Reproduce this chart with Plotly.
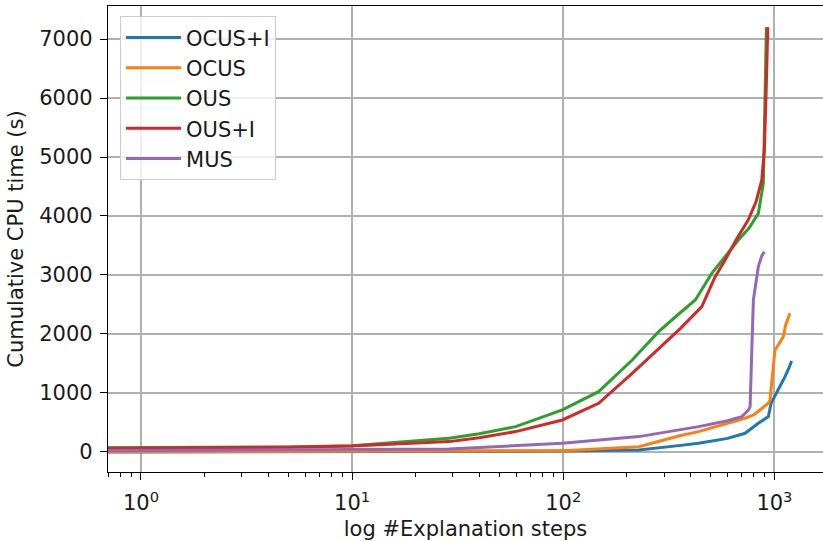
import plotly.graph_objects as go

# ---- data ----
ocus_i_steps = [0.6, 1, 10, 50, 100, 228, 352, 437, 600, 726, 839, 900, 936, 964, 1000, 1042, 1122, 1170, 1206]
ocus_i_time = [0, 0, 3, 10, 18, 34, 107, 147, 230, 316, 486, 560, 599, 825, 930, 1050, 1277, 1420, 1542]

ocus_steps = [0.6, 1, 5, 10, 30, 50, 100, 228, 352, 437, 600, 726, 800, 936, 953, 980, 1006, 1042, 1102, 1130, 1184]
ocus_time = [3, 4, 6, 8, 12, 15, 22, 90, 271, 345, 480, 571, 630, 825, 881, 1300, 1729, 1813, 1954, 2152, 2350]

ous_steps = [0.6, 1, 2, 5, 10, 15, 20, 28.8, 40, 59.5, 99, 147, 212, 283, 350, 422, 505, 590, 675, 760, 839, 886, 900, 916]
ous_time = [68, 70, 75, 85, 105, 150, 180, 232, 310, 429, 712, 1022, 1559, 2039, 2330, 2576, 3028, 3330, 3593, 3800, 4045, 4553, 6000, 7200]

ous_i_steps = [0.6, 1, 2, 5, 10, 15, 20, 28.8, 40, 59.5, 99, 147, 212, 283, 360, 453, 524, 584, 660, 751, 820, 871, 896, 915, 930]
ous_i_time = [60, 62, 66, 80, 100, 130, 150, 175, 240, 345, 542, 825, 1333, 1757, 2100, 2463, 2972, 3254, 3600, 3932, 4250, 4610, 5119, 6200, 7200]

mus_steps = [0.6, 1, 2, 5, 10, 28.8, 99, 228, 437, 600, 700, 750, 767, 781, 795, 839, 870, 896]
mus_time = [20, 22, 28, 35, 42, 51, 147, 260, 429, 530, 599, 700, 768, 1700, 2576, 3141, 3320, 3395]

series = [
    ("OCUS+I", ocus_i_steps, ocus_i_time, "#1f77b4"),
    ("OCUS", ocus_steps, ocus_time, "#ff7f0e"),
    ("OUS", ous_steps, ous_time, "#2ca02c"),
    ("OUS+I", ous_i_steps, ous_i_time, "#d62728"),
    ("MUS", mus_steps, mus_time, "#9467bd"),
]

x_ticks = [1, 10, 100, 1000]
x_ticktext = ["10<sup>0</sup>", "10<sup>1</sup>", "10<sup>2</sup>", "10<sup>3</sup>"]
y_ticks = [0, 1000, 2000, 3000, 4000, 5000, 6000, 7000]

minor_vals = [m * d for d in [0.1, 1, 10, 100, 1000] for m in range(2, 10)]

fig = go.Figure()
for i, (name, xs, ys, col) in enumerate(series):
    fig.add_trace(go.Scatter(x=xs, y=ys, mode="lines", name=name,
                             line=dict(color=col, width=3),
                             legendgroup=f"g{i}"))

font = dict(family="DejaVu Sans", size=21, color="#1a1a1a")
fig.update_layout(
    width=823, height=541,
    margin=dict(l=108, r=0, t=6, b=69),
    paper_bgcolor="white", plot_bgcolor="white",
    font=font,
    showlegend=True,
    legend=dict(x=0.0168, y=0.978, xanchor="left", yanchor="top",
                bgcolor="rgba(255,255,255,0.8)", bordercolor="#cccccc",
                borderwidth=1, font=font,
                tracegroupgap=0, itemwidth=55, entrywidth=158),
    xaxis=dict(type="log", range=[-0.156, 3.23], automargin=False,
               tickvals=x_ticks, ticktext=x_ticktext,
               ticks="outside", ticklen=7, tickwidth=1.2, tickcolor="black",
               ticklabelstandoff=5,
               showline=True, linecolor="black", linewidth=1.3, mirror=True,
               showgrid=True, gridcolor="#b0b0b0", gridwidth=1.5,
               zeroline=False,
               minor=dict(tickvals=minor_vals, ticks="outside", ticklen=4,
                          tickwidth=1, tickcolor="black", showgrid=False),
               title=dict(text="log #Explanation steps", standoff=6,
                          font=font)),
    yaxis=dict(range=[-340, 7560], tickvals=y_ticks, automargin=False,
               ticks="outside", ticklen=7, tickwidth=1.2, tickcolor="black",
               ticklabelstandoff=3,
               showline=True, linecolor="black", linewidth=1.3,
               showgrid=True, gridcolor="#b0b0b0", gridwidth=1.5,
               zeroline=False,
               title=dict(text="Cumulative CPU time (s)", standoff=9,
                          font=font)),
)

fig.write_html("out.html", config={"displayModeBar": False},
               post_script="document.body.style.margin='0px';")
